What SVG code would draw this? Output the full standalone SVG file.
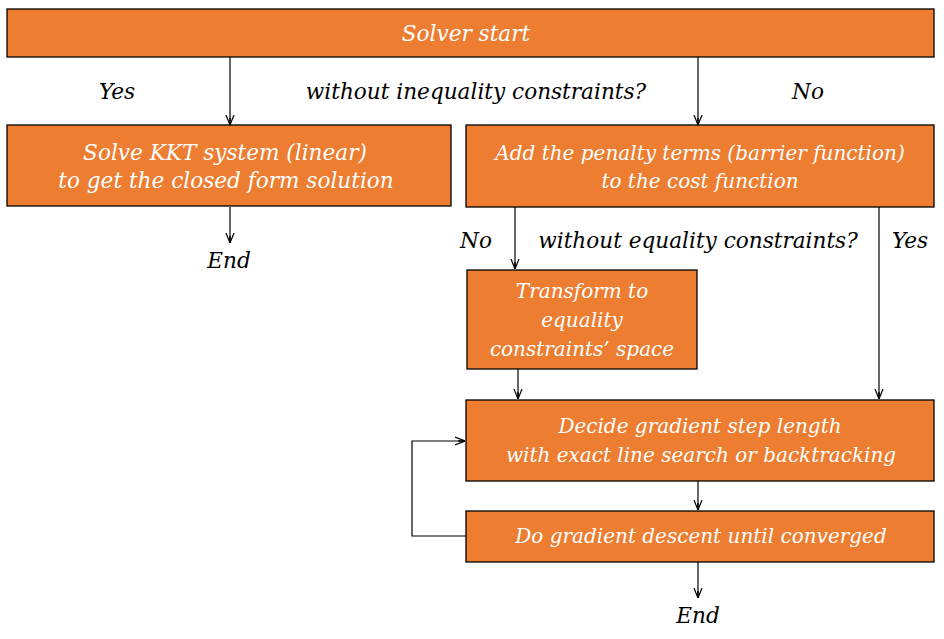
<svg xmlns="http://www.w3.org/2000/svg" width="944" height="639" viewBox="0 0 944 639">
<defs>
<style>
.box{fill:#ED7D31;stroke:#000;stroke-width:1.3}
.t{font-family:"DejaVu Serif","Liberation Serif",serif;font-style:italic;font-size:20px;fill:#fff;text-anchor:middle}
.m{font-size:21.6px}
.l{font-family:"DejaVu Serif","Liberation Serif",serif;font-style:italic;font-size:21.6px;fill:#000;text-anchor:middle}
.c{fill:none;stroke:#000;stroke-width:1.2}
</style>
<marker id="a" viewBox="0 0 10 10" refX="10" refY="5" markerWidth="10" markerHeight="10" markerUnits="userSpaceOnUse" orient="auto">
<path d="M0,1 L10,5 L0,9" fill="none" stroke="#000" stroke-width="1.2"/>
<path d="M3,5 L10,5" stroke="#000" stroke-width="1.5"/>
</marker>
</defs>
<g id="connectors">
<path class="c" d="M230,57 V125" marker-end="url(#a)"/>
<path class="c" d="M698,57 V125" marker-end="url(#a)"/>
<path class="c" d="M230,207 V243" marker-end="url(#a)"/>
<path class="c" d="M515,207 V269" marker-end="url(#a)"/>
<path class="c" d="M879,207 V399" marker-end="url(#a)" stroke="#555"/>
<path class="c" d="M518,369 V399" marker-end="url(#a)"/>
<path class="c" d="M698,481 V510" marker-end="url(#a)"/>
<path class="c" d="M698,562 V598" marker-end="url(#a)"/>
<path class="c" d="M466,536 H412 V441 H465" marker-end="url(#a)"/>
</g>
<g id="labels">
<text class="l" x="117" y="99">Yes</text>
<text class="l" x="476" y="99">without inequality constraints?</text>
<text class="l" x="808" y="99">No</text>
<text class="l" x="229" y="268">End</text>
<text class="l" x="476" y="248">No</text>
<text class="l" x="698" y="248">without equality constraints?</text>
<text class="l" x="910" y="248">Yes</text>
<text class="l" x="698" y="623">End</text>
</g>
<g id="start"><rect class="box" x="7" y="9" width="927" height="48"/><text class="t m" x="466" y="41">Solver start</text></g>
<g id="kkt"><rect class="box" x="7" y="125" width="444" height="81"/><text class="t m" x="225" y="160">Solve KKT system (linear)</text><text class="t m" x="226" y="188">to get the closed form solution</text></g>
<g id="penalty"><rect class="box" x="466" y="125" width="468" height="82"/><text class="t" x="700" y="160">Add the penalty terms (barrier function)</text><text class="t" x="700" y="188">to the cost function</text></g>
<g id="transform"><rect class="box" x="467" y="270" width="230" height="99"/><text class="t" x="582" y="298">Transform to</text><text class="t" x="582" y="327">equality</text><text class="t" x="582" y="356">constraints’ space</text></g>
<g id="decide"><rect class="box" x="466" y="400" width="468" height="81"/><text class="t" x="700" y="433">Decide gradient step length</text><text class="t" x="701" y="462">with exact line search or backtracking</text></g>
<g id="descent"><rect class="box" x="466" y="511" width="468" height="51"/><text class="t" x="701" y="543">Do gradient descent until converged</text></g>
</svg>
